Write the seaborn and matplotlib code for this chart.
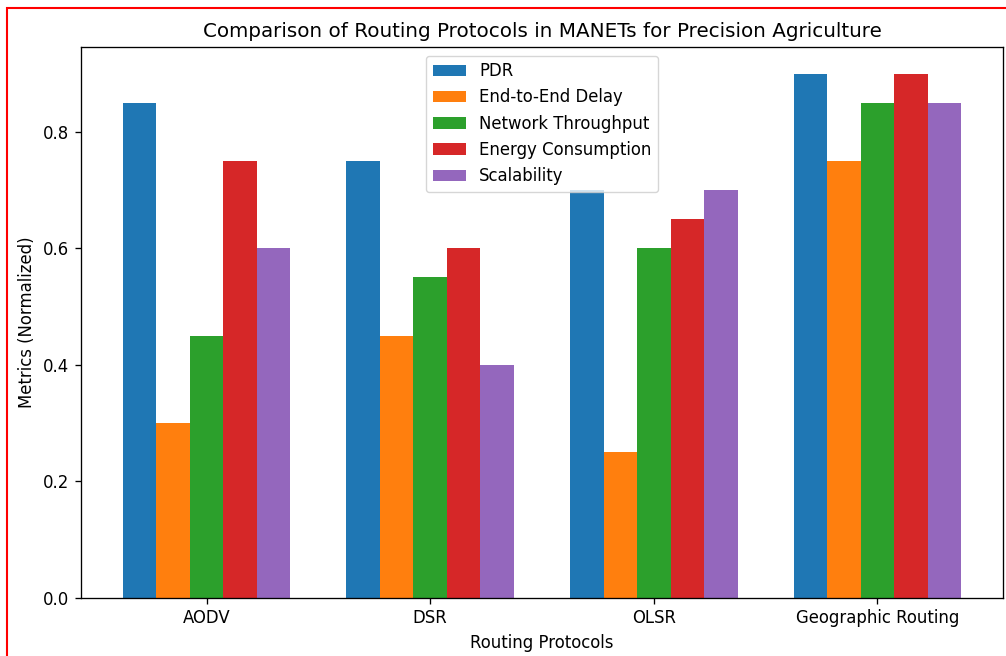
import matplotlib
matplotlib.use("Agg")
import matplotlib.pyplot as plt
import seaborn as sns
import pandas as pd
from matplotlib.patches import Rectangle

protocols = ["AODV", "DSR", "OLSR", "Geographic Routing"]
metrics = ["PDR", "End-to-End Delay", "Network Throughput", "Energy Consumption", "Scalability"]
pdr = [0.85, 0.75, 0.70, 0.90]
delay = [0.30, 0.45, 0.25, 0.75]
throughput = [0.45, 0.55, 0.60, 0.85]
energy = [0.75, 0.60, 0.65, 0.90]
scalability = [0.60, 0.40, 0.70, 0.85]

s = 1.19
plt.rcParams.update({
    "font.size": 10 * s,
    "axes.linewidth": 0.8 * s,
    "xtick.major.size": 3.5 * s,
    "ytick.major.size": 3.5 * s,
    "xtick.major.width": 0.8 * s,
    "ytick.major.width": 0.8 * s,
    "xtick.major.pad": 3.5 * s,
    "ytick.major.pad": 3.5 * s,
})

rows = []
for m, vals in zip(metrics, [pdr, delay, throughput, energy, scalability]):
    for p, v in zip(protocols, vals):
        rows.append({"Protocol": p, "Metric": m, "Value": v})
df = pd.DataFrame(rows)

fig = plt.figure(figsize=(10.06, 6.56), dpi=100)
ax = fig.add_axes([80.7/1006, 1 - 597.7/656, (1003.3 - 80.7)/1006, (597.7 - 47.3)/656])
colors = ["#1f77b4", "#ff7f0e", "#2ca02c", "#d62728", "#9467bd"]
sns.barplot(data=df, x="Protocol", y="Value", hue="Metric", order=protocols,
            hue_order=metrics, palette=colors, saturation=1, width=0.75,
            errorbar=None, ax=ax, linewidth=0)
ax.set_xlim(-0.5625, 3.5625)
ax.set_ylim(0, 0.945)
ax.set_yticks([0.0, 0.2, 0.4, 0.6, 0.8])
ax.set_xlabel("Routing Protocols", labelpad=4 * s)
ax.set_ylabel("Metrics (Normalized)", labelpad=4 * s)
ax.set_title("Comparison of Routing Protocols in MANETs for Precision Agriculture",
             fontsize=12 * s, pad=6 * s)
ax.legend(loc="upper center", title=None)

fig.add_artist(Rectangle((7/1006, -1), 2, 2 - 8/656, transform=fig.transFigure,
                         fill=False, edgecolor="red", linewidth=1.5, clip_on=False))
fig.savefig("out.png", dpi=100)
